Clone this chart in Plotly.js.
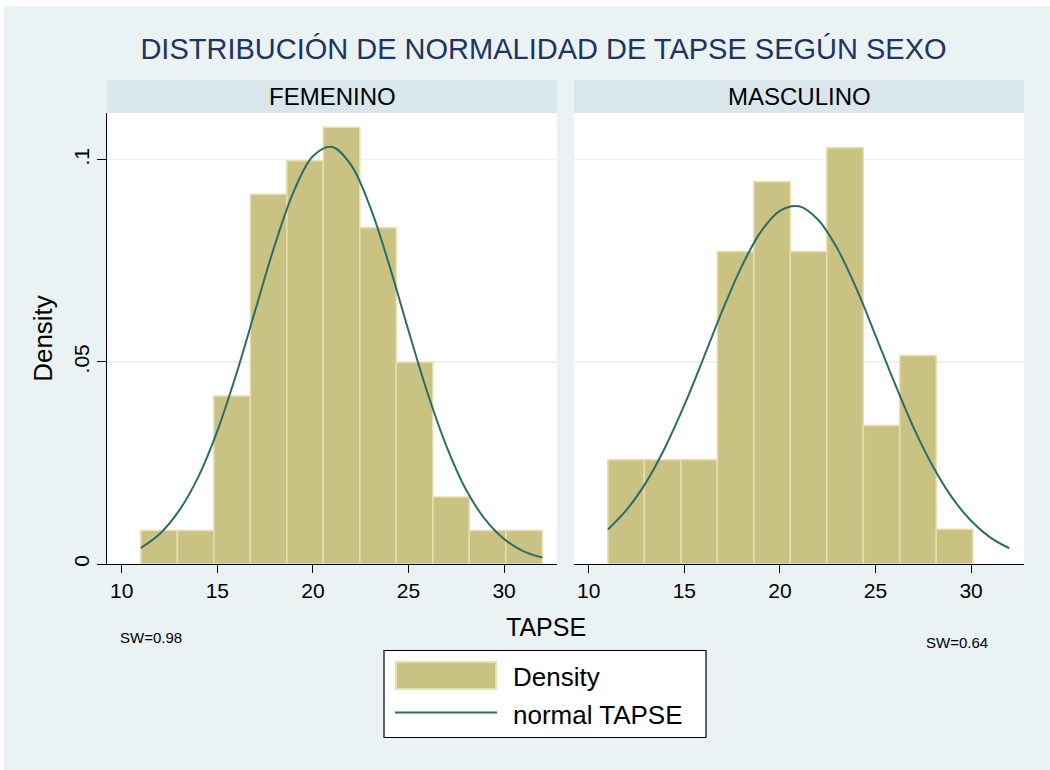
<!DOCTYPE html>
<html>
<head>
<meta charset="utf-8">
<script src="https://cdn.plot.ly/plotly-3.0.1.min.js"></script>
<style>
  html, body { margin: 0; padding: 0; background: #ffffff; width: 1050px; height: 770px; overflow: hidden; }
  #chart { position: absolute; left: 4px; top: 6px; width: 1046px; height: 764px; }
</style>
</head>
<body>
<div id="chart"></div>
<script>
// ---- Data ----
const panelNames = ["FEMENINO", "MASCULINO"];
const binWidth = 1.909;
const binCentersFem = [11.955, 13.864, 15.773, 17.682, 19.591, 21.500, 23.409, 25.318, 27.227, 29.136, 31.045];
const densityFem    = [0.0083, 0.0083, 0.0416, 0.0915, 0.0998, 0.1081, 0.0832, 0.0499, 0.0166, 0.0083, 0.0083];
const binCentersMas = [11.955, 13.864, 15.773, 17.682, 19.591, 21.500, 23.409, 25.318, 27.227, 29.136];
const densityMas    = [0.0258, 0.0258, 0.0258, 0.0773, 0.0946, 0.0773, 0.1030, 0.0343, 0.0516, 0.0086];

const curveX      = [11, 12, 13, 14, 15, 16, 17, 18, 19, 20, 21, 22, 23, 24, 25, 26, 27, 28, 29, 30, 31, 32];
const curveFem    = [0.0040, 0.0075, 0.0132, 0.0215, 0.0329, 0.0471, 0.0630, 0.0788, 0.0922, 0.1009, 0.1032,
                     0.0987, 0.0883, 0.0739, 0.0578, 0.0423, 0.0290, 0.0185, 0.0111, 0.0062, 0.0032, 0.0016];
const curveMas    = [0.0085, 0.0135, 0.0202, 0.0289, 0.0393, 0.0509, 0.0628, 0.0736, 0.0822, 0.0874, 0.0885,
                     0.0852, 0.0781, 0.0682, 0.0566, 0.0448, 0.0337, 0.0242, 0.0165, 0.0107, 0.0066, 0.0039];

const xTickVals = [10, 15, 20, 25, 30];
const yTickVals = [0, 0.05, 0.1];
const yTickText = ["0", ".05", ".1"];
const swLabels  = ["SW=0.98", "SW=0.64"];
const legendLabels = ["Density", "normal TAPSE"];
const chartTitle = "DISTRIBUCIÓN DE NORMALIDAD DE TAPSE SEGÚN SEXO";
const xTitle = "TAPSE";
const yTitle = "Density";

// ---- Styles ----
const FONT = "Liberation Sans, Arial, Helvetica, sans-serif";
const BAR_FILL = "#CAC283";
const BAR_EDGE = "#E6E0AE";
const CURVE = "#2E6C67";
const BG = "#EAF2F3";
const STRIP = "#D9E6EB";

const traces = [
  { type: "bar", x: binCentersFem, y: densityFem, width: binWidth, xaxis: "x", yaxis: "y",
    marker: { color: BAR_FILL, line: { color: BAR_EDGE, width: 1.5 } }, showlegend: false, hoverinfo: "x+y" },
  { type: "scatter", mode: "lines", x: curveX, y: curveFem, xaxis: "x", yaxis: "y",
    line: { color: CURVE, width: 2, shape: "spline", smoothing: 1 }, showlegend: false },
  { type: "bar", x: binCentersMas, y: densityMas, width: binWidth, xaxis: "x2", yaxis: "y2",
    marker: { color: BAR_FILL, line: { color: BAR_EDGE, width: 1.5 } }, showlegend: false, hoverinfo: "x+y" },
  { type: "scatter", mode: "lines", x: curveX, y: curveMas, xaxis: "x2", yaxis: "y2",
    line: { color: CURVE, width: 2, shape: "spline", smoothing: 1 }, showlegend: false }
];

const W = 917, H = 451;           // plot-area size in px
const leftDom = [0, 450 / W];
const rightDom = [467 / W, 1];
// helpers page px -> paper fraction (plot area left page x=107, bottom page y=564)
const px = (p) => (p - 107) / W;
const py = (p) => (564 - p) / H;

const xAxisCommon = {
  range: [9.23, 32.77], tickmode: "array", tickvals: xTickVals, ticks: "outside", ticklen: 8,
  tickcolor: "#000", tickwidth: 1, showline: true, linecolor: "#000", linewidth: 1,
  showgrid: false, zeroline: false, tickfont: { family: FONT, size: 21, color: "#000" }
};
const yAxisCommon = {
  range: [0, 0.1116], tickmode: "array", tickvals: yTickVals, ticktext: yTickText,
  showgrid: true, gridcolor: BG, gridwidth: 1.2, zeroline: false
};

const strips = [leftDom, rightDom].map(d => ({
  type: "rect", xref: "paper", yref: "paper", x0: d[0], x1: d[1], y0: 1, y1: 1 + 33 / H,
  fillcolor: STRIP, line: { width: 0 }, layer: "below"
}));

const annotations = [
  { text: panelNames[0], x: (leftDom[0] + leftDom[1]) / 2, y: py(96.5) },
  { text: panelNames[1], x: (rightDom[0] + rightDom[1]) / 2, y: py(96.5) }
].map(a => Object.assign(a, { xref: "paper", yref: "paper", xanchor: "center", yanchor: "middle",
  showarrow: false, font: { family: FONT, size: 24, color: "#000" } }));

annotations.push({ text: xTitle, xref: "paper", yref: "paper", x: px(545.5), y: py(626.5),
  xanchor: "center", yanchor: "middle", showarrow: false, font: { family: FONT, size: 25, color: "#000" } });
annotations.push({ text: swLabels[0], xref: "paper", yref: "paper", x: px(150.5), y: py(637),
  xanchor: "center", yanchor: "middle", showarrow: false, font: { family: FONT, size: 15, color: "#000" } });
annotations.push({ text: swLabels[1], xref: "paper", yref: "paper", x: px(957), y: py(642),
  xanchor: "center", yanchor: "middle", showarrow: false, font: { family: FONT, size: 15, color: "#000" } });
annotations.push({ text: legendLabels[0], xref: "paper", yref: "paper", x: px(511), y: py(676.5),
  xanchor: "left", yanchor: "middle", showarrow: false, font: { family: FONT, size: 26, color: "#000" } });
annotations.push({ text: legendLabels[1], xref: "paper", yref: "paper", x: px(511), y: py(714.5),
  xanchor: "left", yanchor: "middle", showarrow: false, font: { family: FONT, size: 26, color: "#000" } });

const shapes = strips.concat([
  { type: "rect", xref: "paper", yref: "paper", x0: px(384), x1: px(706), y0: py(737.5), y1: py(650.5),
    fillcolor: "#ffffff", line: { color: "#000", width: 1.2 } },
  { type: "rect", xref: "paper", yref: "paper", x0: px(396), x1: px(496), y0: py(689), y1: py(662),
    fillcolor: BAR_FILL, line: { color: BAR_EDGE, width: 2 } },
  { type: "line", xref: "paper", yref: "paper", x0: px(395), x1: px(497), y0: py(712.5), y1: py(712.5),
    line: { color: CURVE, width: 2 } }
]);

const layout = {
  width: 1046, height: 764,
  paper_bgcolor: BG, plot_bgcolor: "#ffffff",
  margin: { l: 103, r: 26, t: 107, b: 206, pad: 0 },
  title: { text: chartTitle, xref: "container", yref: "container", x: 539.5 / 1046, y: 1 - 43 / 764,
    xanchor: "center", yanchor: "middle", font: { family: FONT, size: 29, color: "#1F3461" } },
  showlegend: false,
  barmode: "overlay",
  xaxis: Object.assign({}, xAxisCommon, { domain: leftDom, anchor: "y" }),
  xaxis2: Object.assign({}, xAxisCommon, { domain: rightDom, anchor: "y2" }),
  yaxis: Object.assign({}, yAxisCommon, { anchor: "x", ticks: "outside", ticklen: 9, tickcolor: "#000",
    showline: true, linecolor: "#000", linewidth: 1, tickangle: -90,
    tickfont: { family: FONT, size: 21, color: "#000" },
    title: { text: yTitle, standoff: 9, font: { family: FONT, size: 26, color: "#000" } } }),
  yaxis2: Object.assign({}, yAxisCommon, { anchor: "x2", showticklabels: false, ticks: "", showline: false }),
  shapes: shapes,
  annotations: annotations,
  font: { family: FONT }
};

Plotly.newPlot("chart", traces, layout, { displayModeBar: false, staticPlot: true });
</script>
</body>
</html>
